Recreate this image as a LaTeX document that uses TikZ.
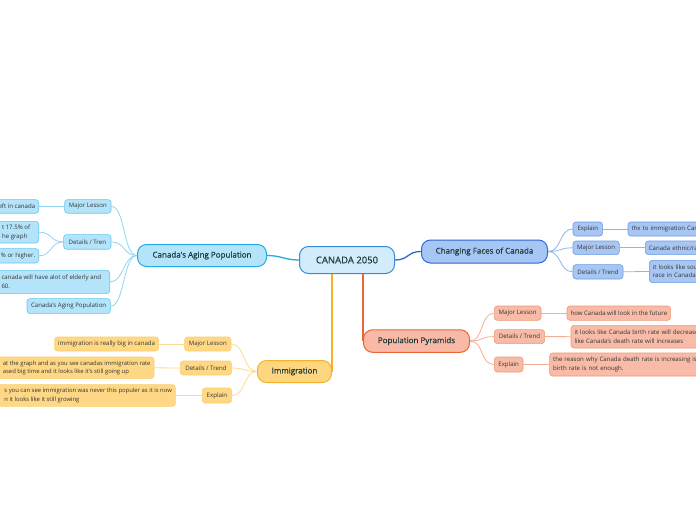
\documentclass[tikz,border=0pt]{standalone}
\usepackage{fontspec}
\setmainfont{Open Sans}
\newfontfamily\semib[FakeBold=0.5]{Open Sans}
\newcommand{\lp}{\hspace*{40pt}}
\definecolor{txt}{HTML}{1E3A3A}
\definecolor{ctxt}{HTML}{333333}
\definecolor{cenF}{HTML}{D3ECFB}\definecolor{cenD}{HTML}{3A8AD6}
\definecolor{ageF}{HTML}{B4E4FA}\definecolor{ageD}{HTML}{25A9E3}
\definecolor{ageCF}{HTML}{B3E4FA}\definecolor{ageCD}{HTML}{66C8F2}\definecolor{ageL}{HTML}{8ED5F4}
\definecolor{cfF}{HTML}{A6C6F4}\definecolor{cfD}{HTML}{2F68D6}
\definecolor{cfCF}{HTML}{A8C6F3}\definecolor{cfCD}{HTML}{6A9BE6}\definecolor{cfL}{HTML}{90B5EE}
\definecolor{imF}{HTML}{FED680}\definecolor{imD}{HTML}{F6B12A}
\definecolor{imCF}{HTML}{FFD885}\definecolor{imCD}{HTML}{FBCF6E}\definecolor{imL}{HTML}{FDDB92}
\definecolor{pyF}{HTML}{F8BAA6}\definecolor{pyD}{HTML}{EB6637}
\definecolor{pyCF}{HTML}{F8BBA7}\definecolor{pyCD}{HTML}{F29877}\definecolor{pyL}{HTML}{F5AE96}
\pgfdeclarelayer{bg}
\pgfsetlayers{bg,main}
\tikzset{
  cbox/.style={draw, rounded corners=3pt, line width=0.6pt, inner xsep=3.5pt, inner ysep=0pt,
    font=\fontsize{6.1}{8.5}\selectfont, text=ctxt, anchor=north west},
  mainbox/.style={draw, rounded corners=9pt, line width=1pt, inner sep=0pt,
    font=\semib\fontsize{8}{10}\selectfont, text=txt, anchor=north west},
  agec/.style={cbox, fill=ageCF, draw=ageCD},
  cfc/.style={cbox, fill=cfCF, draw=cfCD},
  imc/.style={cbox, fill=imCF, draw=imCD},
  pyc/.style={cbox, fill=pyCF, draw=pyCD},
  frag/.style={align=left},
  lfrag/.style={align=left, anchor=north east},
  lnk/.style={line width=0.8pt},
  trunk/.style={line width=1.3pt},
}
\begin{document}
\begin{tikzpicture}[x=1pt,y=-1pt]
\useasboundingbox (0,0) rectangle (696,520);
\begin{pgfonlayer}{bg}
\fill[white] (0,0) rectangle (696,520);
\end{pgfonlayer}
\clip (0,0) rectangle (696,520);

% main nodes
\node[mainbox, fill=cenF, draw=cenD, minimum width=95pt, minimum height=27pt,
      font=\semib\fontsize{9.5}{11}\selectfont] (center) at (299,246) {CANADA 2050};
\node[mainbox, fill=ageF, draw=ageD, minimum width=129pt, minimum height=22pt] (age) at (137,244) {Canada's Aging Population};
\node[mainbox, fill=cfF, draw=cfD, minimum width=126pt, minimum height=23pt] (cf) at (421,239.5) {Changing Faces of Canada};
\node[mainbox, fill=imF, draw=imD, minimum width=74pt, minimum height=22pt] (imm) at (257,360) {Immigration};
\node[mainbox, fill=pyF, draw=pyD, minimum width=106pt, minimum height=22.5pt] (pyr) at (363,329.3) {Population Pyramids};

% aging children
\node[agec, minimum width=46.4pt, minimum height=13.6pt] (ageML) at (64.3,199.3) {Major Lesson};
\node[agec, lfrag, minimum height=13.6pt] (ageMLa) at (39,199.3) {\lp eft in canada};
\node[agec, minimum width=47.4pt, minimum height=14.6pt] (ageDT) at (63.3,234.3) {Details / Tren};
\node[agec, lfrag, minimum height=21.7pt] (ageDTa) at (39,221) {\lp t 17.5\% of\hspace*{5pt}\\\lp he graph};
\node[agec, lfrag, minimum height=14.4pt] (ageDTb) at (39,248.3) {\lp \% or higher.};
\node[agec, lfrag, minimum height=23.3pt] (ageEx) at (110,270) {\lp canada will have alot of elderly and\hspace*{5pt}\\\lp 60.};
\node[agec, minimum width=83.3pt, minimum height=15pt] (ageTi) at (26.7,298.3) {Canada's Aging Population};

% immigration children
\node[imc, minimum width=46.4pt, minimum height=14pt] (imML) at (184.3,336.7) {Major Lesson};
\node[imc, minimum width=104pt, minimum height=14pt] (imMLa) at (54.3,336.7) {immigration is really big in canada};
\node[imc, minimum width=51.3pt, minimum height=14pt] (imDT) at (180,360.7) {Details / Trend};
\node[imc, lfrag, minimum height=21.6pt, font=\fontsize{5.9}{8.5}\selectfont] (imDTa) at (154.3,356.7) {\lp at the graph and as you see canadas immigration rate\\\lp ased big time and it looks like it's still going up};
\node[imc, minimum width=29.3pt, minimum height=15pt] (imEx) at (202,387.7) {Explain};
\node[imc, lfrag, minimum height=21.7pt, font=\fontsize{5.9}{8.5}\selectfont] (imExa) at (175.7,384.3) {\lp s you can see immigration was never this populer as it is now\\\lp n it looks like it still growing};

% changing faces children
\node[cfc, minimum width=29.6pt, minimum height=14pt] (cfEx) at (572.7,221.7) {Explain};
\node[cfc, frag, text width=120pt, minimum height=14pt] (cfExa) at (627.7,221.7) {thx to immigration Cana};
\node[cfc, minimum width=46.3pt, minimum height=13.6pt] (cfML) at (572.7,240.7) {Major Lesson};
\node[cfc, frag, text width=120pt, minimum height=13.6pt] (cfMLa) at (645,240.7) {Canada ethnic/ra};
\node[cfc, minimum width=50pt, minimum height=14.4pt] (cfDT) at (572.7,264.3) {Details / Trend};
\node[cfc, frag, text width=120pt, minimum height=22.3pt] (cfDTa) at (649,260) {it looks like sout\\race in Canada};

% pyramid children
\node[pyc, minimum width=46.7pt, minimum height=14.3pt] (pyML) at (494,305.7) {Major Lesson};
\node[pyc, minimum width=101.6pt, minimum height=14.3pt] (pyMLa) at (566.7,305.7) {how Canada will look in the future};
\node[pyc, minimum width=50.3pt, minimum height=14pt] (pyDT) at (494,329.3) {Details / Trend};
\node[pyc, frag, text width=160pt, minimum height=22.7pt] (pyDTa) at (570.7,325) {it looks like Canada birth rate will decrease s\\like Canada's death rate will increases};
\node[pyc, minimum width=28.7pt, minimum height=15pt] (pyEx) at (494,356.7) {Explain};
\node[pyc, frag, text width=180pt, minimum height=23pt] (pyExa) at (549.3,352.7) {the reason why Canada death rate is increasing is b\\birth rate is not enough.};

\begin{pgfonlayer}{bg}
% trunks
\draw[trunk, draw=ageD] (center.west) .. controls +(-14,0) and +(14,0) .. (age.east);
\draw[trunk, draw=cfD] (center.east) .. controls +(14,0) and +(-14,0) .. (cf.west);
\draw[trunk, draw=imD] (center.south -| imm.east) -- (imm.east);
\draw[trunk, draw=pyD] (center.south -| pyr.west) -- (pyr.west);
% aging links
\foreach \c in {ageML, ageDT, ageEx, ageTi}
  \draw[lnk, draw=ageL] (age.west) .. controls +(-14,0) and +(14,0) .. (\c.east);
\draw[lnk, draw=ageL] (ageML.west) -- (ageMLa.east);
\foreach \c in {ageDTa, ageDTb}
  \draw[lnk, draw=ageL] (ageDT.west) .. controls +(-13,0) and +(13,0) .. (\c.east);
% immigration links
\foreach \c in {imML, imDT, imEx}
  \draw[lnk, draw=imL] (imm.west) .. controls +(-14,0) and +(14,0) .. (\c.east);
\draw[lnk, draw=imL] (imML.west) -- (imMLa.east);
\draw[lnk, draw=imL] (imDT.west) -- (imDTa.east);
\draw[lnk, draw=imL] (imEx.west) -- (imExa.east);
% changing faces links
\foreach \c in {cfEx, cfML, cfDT}
  \draw[lnk, draw=cfL] (cf.east) .. controls +(14,0) and +(-14,0) .. (\c.west);
\draw[lnk, draw=cfL] (cfEx.east) -- (cfExa.west);
\draw[lnk, draw=cfL] (cfML.east) -- (cfMLa.west);
\draw[lnk, draw=cfL] (cfDT.east) -- (cfDTa.west);
% pyramid links
\foreach \c in {pyML, pyDT, pyEx}
  \draw[lnk, draw=pyL] (pyr.east) .. controls +(14,0) and +(-14,0) .. (\c.west);
\draw[lnk, draw=pyL] (pyML.east) -- (pyMLa.west);
\draw[lnk, draw=pyL] (pyDT.east) -- (pyDTa.west);
\draw[lnk, draw=pyL] (pyEx.east) -- (pyExa.west);
\end{pgfonlayer}
\end{tikzpicture}
\end{document}
